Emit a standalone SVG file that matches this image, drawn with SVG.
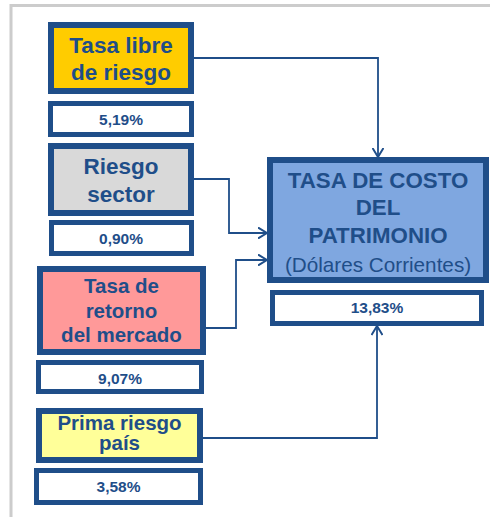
<svg xmlns="http://www.w3.org/2000/svg" width="490" height="517" viewBox="0 0 490 517">
<style>
.box{stroke:#1F4E89;stroke-width:6}
.val{fill:#FFFFFF;stroke:#1F4E89;stroke-width:5}
.t{font-family:"Liberation Sans",Arial,sans-serif;font-weight:bold;fill:#1F4E89;text-anchor:middle}
.lbl{font-size:22.5px}
.lbs{font-size:20.5px}
.pct{font-size:15.5px}
.big{font-size:22.3px}
.reg{font-weight:normal;font-size:20.7px}
.conn{fill:none;stroke:#1F4E89;stroke-width:1.8}
</style>
<defs>
<marker id="arr" viewBox="0 0 10 12" refX="9.5" refY="6" markerWidth="10" markerHeight="12" markerUnits="userSpaceOnUse" orient="auto">
<path d="M0.5,0.5 L9.5,6 L0.5,11.5" fill="none" stroke="#1F4E89" stroke-width="2"/>
</marker>
</defs>
<rect width="490" height="517" fill="#FFFFFF"/>
<path d="M11,517 V5.5 H490" fill="none" stroke="#CCCCCC" stroke-width="3"/>
<g id="connectors">
<path class="conn" d="M194,58 H378 V157" marker-end="url(#arr)"/>
<path class="conn" d="M194,179 H229 V233 H267" marker-end="url(#arr)"/>
<path class="conn" d="M206,328 H236 V260 H267" marker-end="url(#arr)"/>
<path class="conn" d="M203,438 H377 V326" marker-end="url(#arr)"/>
</g>
<g id="tasa-libre">
<rect class="box" x="51" y="25" width="140" height="66" fill="#FFCC00"/>
<text class="t lbl" x="121" y="53">Tasa libre</text>
<text class="t lbl" x="121" y="79.5">de riesgo</text>
</g>
<g id="val-tasa-libre">
<rect class="val" x="50.5" y="103.5" width="141" height="31"/>
<text class="t pct" x="121" y="125">5,19%</text>
</g>
<g id="riesgo-sector">
<rect class="box" x="51" y="146" width="140" height="67" fill="#D9D9D9"/>
<text class="t lbl" x="121" y="174">Riesgo</text>
<text class="t lbl" x="121" y="201.5">sector</text>
</g>
<g id="val-riesgo-sector">
<rect class="val" x="51.5" y="222.5" width="140" height="31"/>
<text class="t pct" x="121" y="243.5">0,90%</text>
</g>
<g id="tasa-retorno">
<rect class="box" x="40" y="269" width="163" height="83" fill="#FF9999"/>
<text class="t lbs" x="121.5" y="293">Tasa de</text>
<text class="t lbs" x="121.5" y="317.5">retorno</text>
<text class="t lbs" x="121.5" y="342">del mercado</text>
</g>
<g id="val-tasa-retorno">
<rect class="val" x="38.5" y="362.5" width="163" height="29"/>
<text class="t pct" x="120" y="383.5">9,07%</text>
</g>
<g id="prima-riesgo">
<rect class="box" x="39" y="411" width="161" height="49" fill="#FFFF99"/>
<text class="t lbs" x="119.5" y="430">Prima riesgo</text>
<text class="t lbs" x="119.5" y="449.5">país</text>
</g>
<g id="val-prima-riesgo">
<rect class="val" x="36.5" y="470.5" width="164" height="32"/>
<text class="t pct" x="118.5" y="492">3,58%</text>
</g>
<g id="tasa-costo">
<rect class="box" x="270" y="160" width="216" height="120" fill="#7FA7E0"/>
<text class="t big" x="378" y="188">TASA DE COSTO</text>
<text class="t big" x="378" y="215">DEL</text>
<text class="t big" x="378" y="243">PATRIMONIO</text>
<text class="t reg" x="378" y="272">(Dólares Corrientes)</text>
</g>
<g id="val-tasa-costo">
<rect class="val" x="272.5" y="292.5" width="209" height="31"/>
<text class="t pct" x="377" y="313">13,83%</text>
</g>
</svg>
